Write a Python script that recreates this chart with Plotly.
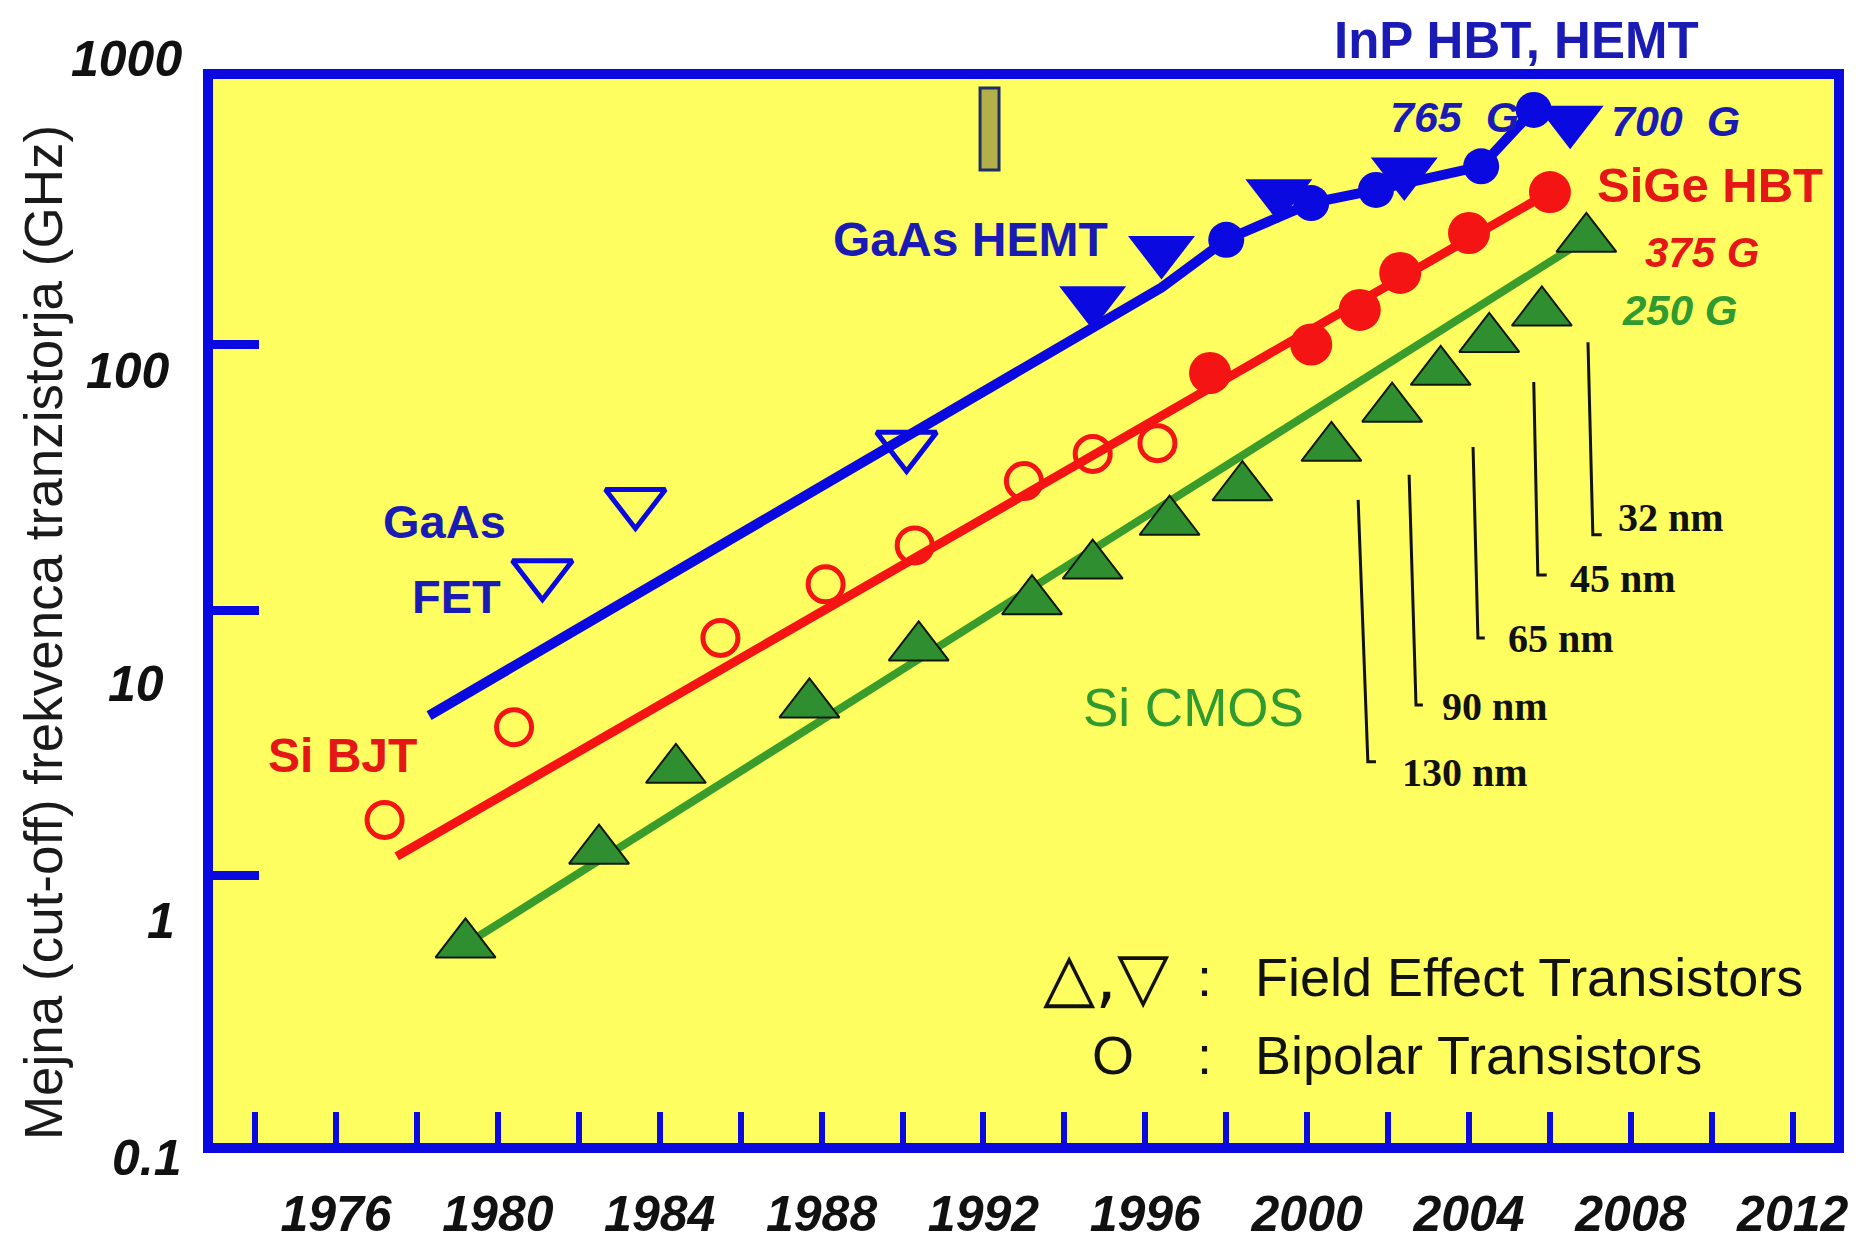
import numpy as np
import plotly.graph_objects as go

# ---------------- data: cut-off frequency (GHz) versus year ----------------
# Si CMOS field effect transistors (filled up-triangles)
cmos_year = [1979.2, 1982.5, 1984.4, 1987.7, 1990.4, 1993.2, 1994.7, 1996.6,
             1998.4, 2000.6, 2002.1, 2003.3, 2004.5, 2005.8, 2006.9]
cmos_ghz = [0.55, 1.24, 2.50, 4.41, 7.23, 10.8, 14.7, 21.5,
            29.0, 40.8, 57.3, 78.9, 105, 132, 250]

# Si BJT (open circles) and SiGe HBT (filled circles)
bjt_year = [1977.2, 1980.4, 1985.5, 1988.1, 1990.3, 1993.0, 1994.7, 1996.3]
bjt_ghz = [1.62, 3.62, 7.85, 12.5, 17.5, 30.6, 38.7, 42.5]
sige_year = [1997.6, 2000.1, 2001.3, 2002.3, 2004.0, 2006.0]
sige_ghz = [78.1, 100, 135, 186, 263, 375]
bipolar_trend_start = [1977.5, 1.18]

# GaAs FET (open down-triangles)
gaas_fet_year = [1981.1, 1983.4, 1990.1]
gaas_fet_ghz = [13.7, 25.4, 41.7]

# GaAs / InP HEMT (filled down-triangles)
hemt_year = [1994.7, 1996.4, 1999.3, 2002.4, 2006.5]
hemt_ghz = [146, 226, 370, 446, 700]

# InP HBT (filled circles)
inp_hbt_year = [1998.0, 2000.1, 2001.7, 2004.3, 2005.6]
inp_hbt_ghz = [248, 341, 382, 469, 765]

# straight part of the III-V trend line
fet_trend_year = [1978.3, 1996.4]
fet_trend_ghz = [4.0, 164]

# CMOS technology nodes: leader lines and their labels
node_labels = ["130 nm", "90 nm", "65 nm", "45 nm", "32 nm"]
node_top_year = [2001.26, 2002.52, 2004.10, 2005.60, 2006.94]
node_top_ghz = [26.0, 32.3, 41.1, 72.2, 102]
node_foot_year = [2001.50, 2002.69, 2004.22, 2005.70, 2007.06]
node_foot_ghz = [2.68, 4.39, 7.84, 13.55, 19.2]
node_hook_year = [2001.70, 2002.86, 2004.39, 2005.92, 2007.28]
node_label_year = [2002.29, 2003.28, 2004.91, 2006.44, 2007.63]
node_label_ghz = [2.45, 4.32, 7.78, 13.1, 22.4]

# axis ticks
year_tick_vals = [1974, 1976, 1978, 1980, 1982, 1984, 1986, 1988, 1990, 1992,
                  1994, 1996, 1998, 2000, 2002, 2004, 2006, 2008, 2010, 2012]
year_tick_text = ["", "1976", "", "1980", "", "1984", "", "1988", "", "1992",
                  "", "1996", "", "2000", "", "2004", "", "2008", "", "2012"]
freq_tick_vals = [0.1, 1, 10, 100, 1000]
freq_tick_text = ["0.1", "1", "10", "100", "1000"]

# where each frequency label is set beside the frame (paper units)
freq_label_x = [-0.018, -0.022, -0.029, -0.025, -0.018]
freq_label_y = [-0.014, 0.209, 0.431, 0.726, 1.019]

# ---------------- styling ----------------
BLUE = "#0a0ae0"
BLUE_TXT = "#1a1ab4"
RED = "#f51414"
RED_TXT = "#e51616"
GREEN_LINE = "#3a9c2c"
GREEN_FILL = "#2f8f30"
GREEN_TXT = "#2f9a2f"
YELLOW = "#fefe60"
SANS = "Liberation Sans, Arial, sans-serif"
SERIF = "Liberation Serif, Times New Roman, serif"

fig = go.Figure()

# trend lines
fig.add_trace(go.Scatter(
    x=[cmos_year[0], cmos_year[-1]], y=[cmos_ghz[0], cmos_ghz[-1]],
    mode="lines", line=dict(color=GREEN_LINE, width=8), hoverinfo="skip"))
fig.add_trace(go.Scatter(
    x=[bipolar_trend_start[0], sige_year[-1]], y=[bipolar_trend_start[1], sige_ghz[-1]],
    mode="lines", line=dict(color=RED, width=9), hoverinfo="skip"))
fig.add_trace(go.Scatter(
    x=fet_trend_year + inp_hbt_year + [hemt_year[-1]],
    y=fet_trend_ghz + inp_hbt_ghz + [hemt_ghz[-1]],
    mode="lines", line=dict(color=BLUE, width=10), hoverinfo="skip"))

# technology-node leader lines
nx, ny = [], []
for i in range(len(node_labels)):
    nx += [node_top_year[i], node_foot_year[i], node_hook_year[i], None]
    ny += [node_top_ghz[i], node_foot_ghz[i], node_foot_ghz[i], None]
fig.add_trace(go.Scatter(x=nx, y=ny, mode="lines",
                         line=dict(color="#111111", width=3), hoverinfo="skip"))

# markers
fig.add_trace(go.Scatter(
    x=cmos_year, y=cmos_ghz, mode="markers", name="Si CMOS",
    marker=dict(symbol="triangle-up", size=52, color=GREEN_FILL,
                line=dict(color="#101810", width=2))))
fig.add_trace(go.Scatter(
    x=bjt_year, y=bjt_ghz, mode="markers", name="Si BJT",
    marker=dict(symbol="circle-open", size=35, color=RED,
                line=dict(color=RED, width=5))))
fig.add_trace(go.Scatter(
    x=sige_year, y=sige_ghz, mode="markers", name="SiGe HBT",
    marker=dict(symbol="circle", size=42, color=RED, line=dict(width=0))))
fig.add_trace(go.Scatter(
    x=gaas_fet_year, y=gaas_fet_ghz, mode="markers", name="GaAs FET",
    marker=dict(symbol="triangle-down-open", size=52, color=BLUE,
                line=dict(color=BLUE, width=5))))
fig.add_trace(go.Scatter(
    x=hemt_year, y=hemt_ghz, mode="markers", name="HEMT",
    marker=dict(symbol="triangle-down", size=58, color=BLUE, line=dict(width=0))))
fig.add_trace(go.Scatter(
    x=inp_hbt_year, y=inp_hbt_ghz, mode="markers", name="InP HBT",
    marker=dict(symbol="circle", size=36, color=BLUE, line=dict(width=0))))


def label(text, year, ghz, color, size, family=SANS, weight="bold",
          style="normal", xanchor="center"):
    fig.add_annotation(
        text=text, x=year, y=np.log10(ghz), xref="x", yref="y",
        showarrow=False, xanchor=xanchor, yanchor="middle",
        font=dict(family=family, size=size, color=color, weight=weight, style=style))


# header label above the frame (paper coordinates so it is not hidden)
fig.add_annotation(
    text="InP HBT, HEMT", xref="paper", yref="paper", x=0.804, y=1.036,
    showarrow=False, xanchor="center", yanchor="middle",
    font=dict(family=SANS, size=51, color=BLUE_TXT, weight="bold"))

label("765\u00a0\u00a0G", 2003.65, 719, BLUE_TXT, 43, style="italic")
label("700\u00a0\u00a0G", 2009.11, 695, BLUE_TXT, 43, style="italic")
label("SiGe HBT", 2009.95, 399, RED_TXT, 49)
label("375 G", 2009.76, 223, RED_TXT, 42, style="italic")
label("250 G", 2009.21, 134, GREEN_TXT, 42, style="italic")
label("GaAs HEMT", 1991.67, 248, BLUE_TXT, 48)
label("GaAs", 1978.67, 21.6, BLUE_TXT, 47)
label("FET", 1978.97, 11.2, BLUE_TXT, 47)
label("Si BJT", 1976.15, 2.82, RED_TXT, 48)
label("Si CMOS", 1997.18, 4.28, GREEN_TXT, 53, weight="normal")

for i, txt in enumerate(node_labels):
    label(txt, node_label_year[i], node_label_ghz[i], "#111111", 40,
          family=SERIF, xanchor="left")

# symbol key
label("\u25b3,\u25bd", 1995.03, 0.415, "#111111", 68, family="DejaVu Sans", weight="normal")
label(":", 1997.47, 0.415, "#111111", 54, weight="normal")
label("Field Effect Transistors", 1998.66, 0.415, "#111111", 54, weight="normal", xanchor="left")
label("O", 1995.20, 0.211, "#111111", 54, weight="normal")
label(":", 1997.47, 0.211, "#111111", 54, weight="normal")
label("Bipolar Transistors", 1998.66, 0.211, "#111111", 54, weight="normal", xanchor="left")

tick_font = dict(family=SANS, size=50, color="#111111", weight="bold", style="italic")

# frequency labels beside the left edge of the frame
for txt, lx, ly in zip(freq_tick_text, freq_label_x, freq_label_y):
    fig.add_annotation(text=txt, xref="paper", yref="paper", x=lx, y=ly,
                       showarrow=False, xanchor="right", yanchor="middle",
                       font=tick_font)

# axis title
fig.add_annotation(
    text="Mejna (cut-off) frekvenca tranzistorja (GHz)", textangle=-90,
    xref="paper", yref="paper", x=-0.105, y=0.48, showarrow=False,
    xanchor="center", yanchor="middle",
    font=dict(family=SANS, size=53, color="#1a1a1a"))

# small marker box near the top edge
fig.add_shape(type="rect", xref="paper", yref="paper",
              x0=0.4732, x1=0.4849, y0=0.9145, y1=0.9915,
              fillcolor="#b3b04c", line=dict(color="#1f2f66", width=3))

fig.update_xaxes(
    range=[1972.96, 2013.02], tickvals=year_tick_vals, ticktext=year_tick_text,
    ticks="inside", ticklen=31, tickwidth=6, tickcolor=BLUE,
    showline=True, linewidth=10, linecolor=BLUE, mirror=True,
    showgrid=False, zeroline=False, tickfont=tick_font, ticklabelstandoff=18,
    automargin=False)
# only the inner decades carry a tick mark; the outer ones sit on the frame
fig.update_yaxes(
    type="log", range=[-1.0075, 3.0], tickvals=freq_tick_vals[1:-1],
    showticklabels=False,
    ticks="inside", ticklen=46, tickwidth=9, tickcolor=BLUE,
    showline=True, linewidth=10, linecolor=BLUE, mirror=True,
    showgrid=False, zeroline=False, automargin=False)

fig.update_layout(
    width=1863, height=1242,
    margin=dict(l=213, r=29, t=79, b=99),
    paper_bgcolor="white", plot_bgcolor=YELLOW,
    showlegend=False)

fig.write_html("out.html")
